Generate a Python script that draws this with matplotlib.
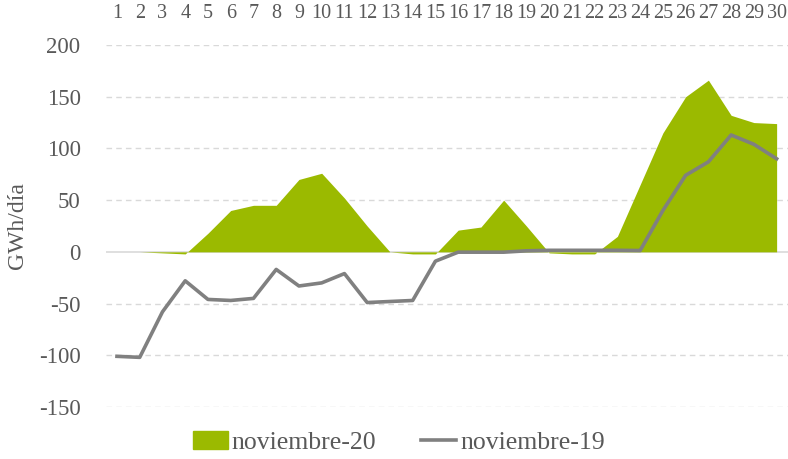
import matplotlib

matplotlib.use("Agg")
import matplotlib.pyplot as plt
from matplotlib.lines import Line2D
from matplotlib.patches import Patch

days = list(range(1, 31))
nov20 = [0, 0, -1, -2, 18, 40, 45, 45, 70, 76, 52, 25, 0, -2, -2,
         21, 24, 50, 25, -1, -2, -2, 15, 65, 115, 150, 166, 132, 125, 124]
nov19 = [-101, -102, -58, -28, -46, -47, -45, -17, -33, -30, -21, -49, -48, -47, -9,
         -0.3, -0.3, -0.3, 1, 1.5, 1.5, 1.5, 1.5, 1.3, 40, 74, 87, 113, 104, 90]
yticks = [-150, -100, -50, 0, 50, 100, 150, 200]

green = "#9bba00"
grey = "#808080"
text_c = "#595959"

plt.rcParams["font.family"] = ["Liberation Serif", "DejaVu Serif"]

fig = plt.figure(figsize=(7.88, 4.59), dpi=100)
ax = fig.add_axes([105.6 / 788, 52 / 459, 682.4 / 788, 362 / 459])

for y in yticks:
    if y == 0:
        continue
    ax.axhline(y, color="#d9d9d9", lw=1, ls=(0, (4, 3)), zorder=0)
ax.axhline(0, color="#d9d9d9", lw=1.2, zorder=1)

ax.fill_between(days, 0, nov20, color=green, lw=0, zorder=2)
ax.plot(days, nov19, color=grey, lw=2.6, zorder=3)

ax.set_xlim(0.5, 30.5)
ax.set_ylim(-150, 200)
ax.set_yticks(yticks)
ax.set_yticklabels([str(v) for v in yticks], fontsize=16.5, color=text_c)
ax.set_xticks(days)
ax.set_xticklabels([str(d) for d in days], fontsize=14.5, color=text_c)
ax.xaxis.tick_top()
ax.tick_params(axis="both", length=0)
ax.tick_params(axis="y", pad=18)
ax.tick_params(axis="x", pad=16)
for s in ax.spines.values():
    s.set_visible(False)
ax.set_ylabel("GWh/día", fontsize=17, color=text_c, labelpad=8)

handles = [Patch(color=green, label="noviembre-20"),
           Line2D([], [], color=grey, lw=2.6, label="noviembre-19")]
fig.legend(handles=handles, loc="lower center", bbox_to_anchor=(0.506, -0.04), ncol=2,
           frameon=False, fontsize=18.5, labelcolor=text_c, handlelength=1.36,
           handletextpad=0.15, columnspacing=1.75)

fig.savefig("out.png", dpi=100)
